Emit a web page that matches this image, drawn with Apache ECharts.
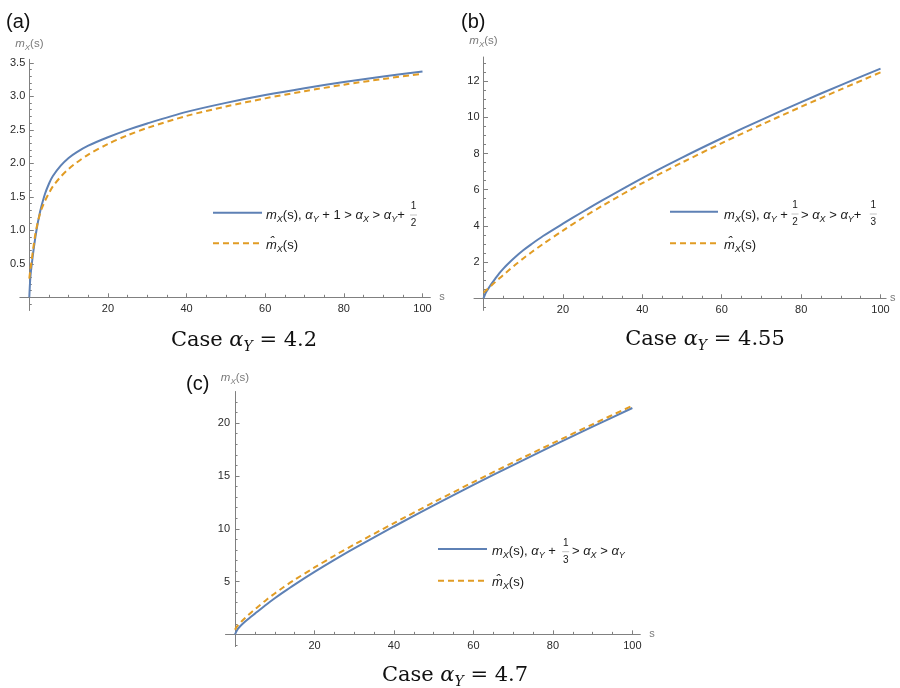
<!DOCTYPE html>
<html><head><meta charset="utf-8">
<script src="https://cdn.jsdelivr.net/npm/echarts@6/dist/echarts.min.js"></script>
<style>html,body{margin:0;padding:0;background:#fff}#c{width:900px;height:688px}</style>
</head><body><div id="c"></div>
<script>
// ---------- data ----------
const sA   = [0, 0.25, 0.5, 1, 1.5, 2, 2.5, 3, 4, 5, 6, 8, 10, 12, 15, 20, 25, 30, 40, 50, 60, 70, 80, 90, 100];
const mA   = [0, 0.28, 0.43, 0.67, 0.88, 1.06, 1.21, 1.34, 1.545, 1.695, 1.81, 1.965, 2.08, 2.164, 2.263, 2.388, 2.498, 2.595, 2.767, 2.902, 3.019, 3.121, 3.213, 3.296, 3.371];
const hatA = [0.28, 0.40, 0.51, 0.73, 0.93, 1.08, 1.20, 1.30, 1.44, 1.555, 1.655, 1.80, 1.915, 2.01, 2.13, 2.288, 2.418, 2.527, 2.707, 2.847, 2.969, 3.076, 3.173, 3.259, 3.336];

const sB   = [0, 0.5, 1, 2, 3, 4, 5, 6, 8, 10, 12, 15, 20, 25, 30, 40, 50, 60, 70, 80, 90, 100];
const mB   = [0, 0.28, 0.46, 0.80, 1.10, 1.39, 1.64, 1.87, 2.28, 2.65, 2.98, 3.44, 4.12, 4.78, 5.42, 6.64, 7.77, 8.84, 9.86, 10.84, 11.78, 12.69];
const hatB = [0.31, 0.41, 0.51, 0.71, 0.91, 1.10, 1.29, 1.48, 1.85, 2.20, 2.53, 3.00, 3.74, 4.45, 5.12, 6.36, 7.50, 8.57, 9.59, 10.58, 11.54, 12.48];

const sC   = [0, 0.5, 1, 2, 3, 4, 5, 6, 8, 10, 12, 15, 20, 25, 30, 40, 50, 60, 70, 80, 90, 100];
const mC   = [0, 0.40, 0.65, 1.02, 1.35, 1.66, 1.96, 2.265, 2.855, 3.415, 3.95, 4.715, 5.915, 7.055, 8.145, 10.215, 12.215, 14.155, 16.035, 17.875, 19.675, 21.435];
const hatC = [0.43, 0.75, 0.98, 1.36, 1.71, 2.05, 2.37, 2.68, 3.305, 3.875, 4.41, 5.165, 6.335, 7.445, 8.505, 10.535, 12.505, 14.425, 16.285, 18.105, 19.895, 21.645];

const xTicks  = [20, 40, 60, 80, 100];
const yTicksA = [0.5, 1, 1.5, 2, 2.5, 3, 3.5];
const yTicksB = [2, 4, 6, 8, 10, 12];
const yTicksC = [5, 10, 15, 20];
const panelLetters = ['(a)', '(b)', '(c)'];
const caseValues = ['4.2', '4.55', '4.7'];

// ---------- styling ----------
const BLUE = '#5E81B5', ORANGE = '#E19C24';
const AX = '#808080', LBL = '#2a2a2a', NAMEC = '#7a7a7a';
const SANS = 'Liberation Sans', SERIF = 'DejaVu Serif';

function pairs(xs, ys) { return xs.map((x, i) => [x, ys[i]]); }

function richSans(size, color) {
  return {
    t:   { fontSize: size, fontFamily: SANS, fill: color, color: color, lineHeight: size + 4 },
    i:   { fontSize: size, fontFamily: SANS, fontStyle: 'italic', fill: color, color: color, lineHeight: size + 4 },
    s:   { fontSize: Math.round(size * 0.72), fontFamily: SANS, fontStyle: 'italic', fill: color, color: color,
           lineHeight: size * 0.72, verticalAlign: 'bottom' }
  };
}

function xAxisCfg(g, min, max, gap, lblMargin) {
  return {
    type: 'value', gridIndex: g, min: min, max: max, minInterval: 20, maxInterval: 20,
    axisLine: { show: true, onZero: true, lineStyle: { color: AX, width: 1 } },
    axisTick: { show: true, inside: true, length: 4, customValues: xTicks, lineStyle: { color: AX } },
    minorTick: { show: true, splitNumber: 4, length: 2.5, lineStyle: { color: AX } },
    axisLabel: { customValues: xTicks, margin: lblMargin, color: LBL, fontSize: 11, fontFamily: SANS },
    splitLine: { show: false }, minorSplitLine: { show: false },
    name: 's', nameLocation: 'end', nameGap: gap,
    nameTextStyle: { color: NAMEC, fontSize: 11, fontFamily: SANS }
  };
}
function yAxisCfg(g, min, max, step, minorSplit, ticks, fmt, gap, lblMargin) {
  return {
    type: 'value', gridIndex: g, min: min, max: max, minInterval: step, maxInterval: step,
    axisLine: { show: true, onZero: true, lineStyle: { color: AX, width: 1 } },
    axisTick: { show: true, inside: true, length: 4.5, customValues: ticks, lineStyle: { color: AX } },
    minorTick: { show: true, splitNumber: minorSplit, length: 2.5, lineStyle: { color: AX } },
    axisLabel: { customValues: ticks, margin: lblMargin, color: LBL, fontSize: 11, fontFamily: SANS, formatter: fmt },
    splitLine: { show: false }, minorSplitLine: { show: false },
    name: '{i|m}{s|X}{t|(s)}', nameLocation: 'end', nameGap: gap,
    nameTextStyle: { color: NAMEC, rich: richSans(11.5, NAMEC) }
  };
}

function lineSeries(name, g, xs, ys, color, dashed) {
  return {
    type: 'line', name: name, xAxisIndex: g, yAxisIndex: g,
    data: pairs(xs, ys), showSymbol: false, symbol: 'none',
    smooth: 0.3, clip: true,
    lineStyle: { color: color, width: 2, type: dashed ? [6, 4] : 'solid' },
    z: dashed ? 3 : 2, silent: true
  };
}

// ---------- graphic helpers (legends, captions, panel letters) ----------
const LEG = 13;
function mtext(x, y, text, size, color) {
  return { type: 'text', x: x, y: y, z: 20,
    style: { text: text, rich: richSans(size || LEG, color || '#1a1a1a'), align: 'left', verticalAlign: 'middle' } };
}
function frac(x, yc, num, den) {
  const st = (t) => ({ text: t, fontSize: 10, fontFamily: SANS, fill: '#1a1a1a', align: 'center', verticalAlign: 'middle' });
  return [
    { type: 'text', x: x, y: yc - 8.5, z: 20, style: st(num) },
    { type: 'text', x: x, y: yc + 8.5, z: 20, style: st(den) },
    { type: 'line', z: 20, shape: { x1: x - 3.5, y1: yc, x2: x + 3.5, y2: yc }, style: { stroke: '#9a9a9a', lineWidth: 0.6 } }
  ];
}
function sample(x1, x2, y, color, dashed) {
  return { type: 'line', z: 20, shape: { x1: x1, y1: y, x2: x2, y2: y },
    style: { stroke: color, lineWidth: 2, lineDash: dashed ? [6, 4] : null } };
}
function caption(x, y, val) {
  return { type: 'text', x: x, y: y, z: 20,
    style: { text: '{r|Case }{a|α}{s|Y}{r| = ' + val + '}', align: 'center', verticalAlign: 'middle',
      rich: {
        r: { fontFamily: SERIF, fontSize: 21, fill: '#111', color: '#111', lineHeight: 26 },
        a: { fontFamily: SERIF, fontSize: 21, fontStyle: 'italic', fill: '#111', color: '#111', lineHeight: 26 },
        s: { fontFamily: SERIF, fontSize: 14, fontStyle: 'italic', fill: '#111', color: '#111', lineHeight: 12, verticalAlign: 'bottom' }
      } } };
}
function letter(x, y, t) {
  return { type: 'text', x: x, y: y, z: 20,
    style: { text: t, fontFamily: SANS, fontSize: 20, fill: '#111', align: 'left', verticalAlign: 'middle' } };
}

const graphics = [].concat(
  [letter(6, 22, panelLetters[0]), letter(461, 22, panelLetters[1]), letter(186, 384, panelLetters[2])],
  // legend (a)
  [sample(213, 262, 212.7, BLUE, false), sample(213, 262, 243.3, ORANGE, true),
   mtext(266, 215, '{i|m}{s|X}{t|(s), }{i|α}{s|Y}{t| + 1 > }{i|α}{s|X}{t| > }{i|α}{s|Y}{t|+}'),
   mtext(266, 245, '{i|m̂}{s|X}{t|(s)}')],
  frac(413.5, 215, '1', '2'),
  // legend (b)
  [sample(670, 718, 211.7, BLUE, false), sample(670, 718, 243.3, ORANGE, true),
   mtext(724, 215, '{i|m}{s|X}{t|(s), }{i|α}{s|Y}{t| + }'),
   mtext(801, 215, '{t|> }{i|α}{s|X}{t| > }{i|α}{s|Y}{t|+}'),
   mtext(724, 245, '{i|m̂}{s|X}{t|(s)}')],
  frac(795, 214, '1', '2'), frac(873.3, 214, '1', '3'),
  // legend (c)
  [sample(438, 487, 549, BLUE, false), sample(438, 487, 580.7, ORANGE, true),
   mtext(492, 551.7, '{i|m}{s|X}{t|(s), }{i|α}{s|Y}{t| + }'),
   mtext(572, 551.7, '{t|> }{i|α}{s|X}{t| > }{i|α}{s|Y}'),
   mtext(492, 582.5, '{i|m̂}{s|X}{t|(s)}')],
  frac(565.7, 551.7, '1', '3'),
  // captions
  [caption(244, 341, caseValues[0]), caption(705, 340, caseValues[1]), caption(455, 676, caseValues[2])]
);

const option = {
  backgroundColor: '#ffffff',
  animation: false,
  grid: [
    { left: 19.86, top: 59.3, width: 410.5, height: 251.2, containLabel: false },
    { left: 474.0, top: 57.0, width: 412.1, height: 253.4, containLabel: false },
    { left: 225.5, top: 391.5, width: 414.8, height: 255.1, containLabel: false }
  ],
  xAxis: [
    xAxisCfg(0, -2.4, 102, 9, -6.7),
    xAxisCfg(1, -2.4, 101.4, 4, -5.6),
    xAxisCfg(2, -2.4, 102, 9, -5.7)
  ],
  yAxis: [
    yAxisCfg(0, -0.197, 3.552, 0.5, 5, yTicksA, (v) => v.toFixed(1), 8, -5.4),
    yAxisCfg(1, -0.67, 13.33, 2, 4, yTicksB, (v) => String(v), 8, -5.5),
    yAxisCfg(2, -1.16, 23.0, 5, 5, yTicksC, (v) => String(v), 6, -4.5)
  ],
  series: [
    lineSeries('mX a', 0, sA, mA, BLUE, false),
    lineSeries('mhat a', 0, sA, hatA, ORANGE, true),
    lineSeries('mX b', 1, sB, mB, BLUE, false),
    lineSeries('mhat b', 1, sB, hatB, ORANGE, true),
    lineSeries('mX c', 2, sC, mC, BLUE, false),
    lineSeries('mhat c', 2, sC, hatC, ORANGE, true)
  ],
  graphic: graphics
};

const chart = echarts.init(document.getElementById('c'), null, { renderer: 'canvas', width: 900, height: 688 });
chart.setOption(option);
</script>
</body></html>
